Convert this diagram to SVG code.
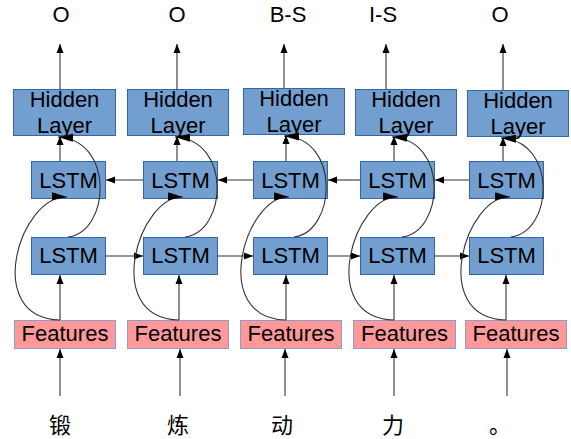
<svg xmlns="http://www.w3.org/2000/svg" width="571" height="439" viewBox="0 0 571 439">
<defs>
<style>
.hid{fill:#729fcf;stroke:#3465a4;stroke-width:1}
.lstm{fill:#729fcf;stroke:#3465a4;stroke-width:1}
.feat{fill:#ff9999;stroke:#8a9cd0;stroke-width:1}
.t{font-family:"Liberation Sans",Arial,sans-serif;font-size:22px;fill:#000;text-anchor:middle}
.zh{font-family:"Liberation Sans","Noto Sans CJK SC",sans-serif;font-size:22px;fill:#000;text-anchor:middle}
.ln{fill:none;stroke:#333;stroke-width:1.1}
.s{marker-end:url(#ah)}
.c{marker-end:url(#ahc)}
</style>
<marker id="ah" markerUnits="userSpaceOnUse" markerWidth="10" markerHeight="8" refX="9" refY="4" orient="auto"><path d="M0,0.5 L9,4 L0,7.5 z" fill="#000"/></marker>
<marker id="ahc" markerUnits="userSpaceOnUse" markerWidth="16" markerHeight="10" refX="15" refY="5" orient="auto"><path d="M0,1 L15,5 L0,9 z" fill="#000"/></marker>
</defs>
<rect width="571" height="439" fill="#fff"/>

<g id="col1">
<g id="label1"><text class="t" x="61" y="22">O</text></g>
<g id="hidden1"><rect class="hid" x="13.5" y="89.5" width="102" height="46"/><text class="t" x="64.5" y="107">Hidden</text><text class="t" x="64.5" y="133">Layer</text></g>
<g id="lstmT1"><rect class="lstm" x="31.5" y="161.5" width="74" height="37"/><text class="t" x="68.5" y="188">LSTM</text></g>
<g id="lstmB1"><rect class="lstm" x="31.5" y="237.5" width="74" height="37"/><text class="t" x="68.5" y="263">LSTM</text></g>
<g id="feat1"><rect class="feat" x="14.5" y="320.5" width="101" height="28"/><text class="t" x="65" y="341">Features</text></g>
<g id="char1"><text class="zh" x="60" y="433">锻</text></g>
</g>

<g id="col2">
<g id="label2"><text class="t" x="177" y="22">O</text></g>
<g id="hidden2"><rect class="hid" x="127.5" y="89.5" width="101" height="46"/><text class="t" x="178" y="107">Hidden</text><text class="t" x="178" y="133">Layer</text></g>
<g id="lstmT2"><rect class="lstm" x="143.5" y="161.5" width="74" height="37"/><text class="t" x="180.5" y="188">LSTM</text></g>
<g id="lstmB2"><rect class="lstm" x="143.5" y="237.5" width="74" height="37"/><text class="t" x="180.5" y="263">LSTM</text></g>
<g id="feat2"><rect class="feat" x="127.5" y="320.5" width="101" height="28"/><text class="t" x="178" y="341">Features</text></g>
<g id="char2"><text class="zh" x="178" y="433">炼</text></g>
</g>

<g id="col3">
<g id="label3"><text class="t" x="288" y="22">B-S</text></g>
<g id="hidden3"><rect class="hid" x="243.5" y="88.5" width="101" height="46"/><text class="t" x="294" y="106">Hidden</text><text class="t" x="294" y="132">Layer</text></g>
<g id="lstmT3"><rect class="lstm" x="253.5" y="161.5" width="74" height="37"/><text class="t" x="290.5" y="188">LSTM</text></g>
<g id="lstmB3"><rect class="lstm" x="253.5" y="237.5" width="74" height="37"/><text class="t" x="290.5" y="263">LSTM</text></g>
<g id="feat3"><rect class="feat" x="240.5" y="320.5" width="101" height="28"/><text class="t" x="291" y="341">Features</text></g>
<g id="char3"><text class="zh" x="282" y="433">动</text></g>
</g>

<g id="col4">
<g id="label4"><text class="t" x="383" y="22">I-S</text></g>
<g id="hidden4"><rect class="hid" x="355.5" y="89.5" width="101" height="46"/><text class="t" x="406" y="107">Hidden</text><text class="t" x="406" y="133">Layer</text></g>
<g id="lstmT4"><rect class="lstm" x="360.5" y="161.5" width="74" height="37"/><text class="t" x="397.5" y="188">LSTM</text></g>
<g id="lstmB4"><rect class="lstm" x="360.5" y="237.5" width="74" height="37"/><text class="t" x="397.5" y="263">LSTM</text></g>
<g id="feat4"><rect class="feat" x="353.5" y="320.5" width="102" height="28"/><text class="t" x="404.5" y="341">Features</text></g>
<g id="char4"><text class="zh" x="393" y="433">力</text></g>
</g>

<g id="col5">
<g id="label5"><text class="t" x="500" y="22">O</text></g>
<g id="hidden5"><rect class="hid" x="467.5" y="90.5" width="101" height="46"/><text class="t" x="518" y="108">Hidden</text><text class="t" x="518" y="134">Layer</text></g>
<g id="lstmT5"><rect class="lstm" x="469.5" y="161.5" width="74" height="37"/><text class="t" x="506.5" y="188">LSTM</text></g>
<g id="lstmB5"><rect class="lstm" x="469.5" y="237.5" width="74" height="37"/><text class="t" x="506.5" y="263">LSTM</text></g>
<g id="feat5"><rect class="feat" x="465.5" y="320.5" width="101" height="28"/><text class="t" x="516" y="341">Features</text></g>
<g id="char5"><text class="zh" x="500" y="433">。</text></g>
</g>

<g id="connectors">
<!-- hidden to labels -->
<path class="ln s" d="M60,89 V44"/>
<path class="ln s" d="M177,90 V44"/>
<path class="ln s" d="M284,88 V44"/>
<path class="ln s" d="M386,89 V44"/>
<path class="ln s" d="M503,90 V44"/>
<!-- top LSTM to hidden -->
<path class="ln s" d="M60,161 V136"/>
<path class="ln s" d="M177,161 V136"/>
<path class="ln s" d="M286,161 V135"/>
<path class="ln s" d="M394,161 V136"/>
<path class="ln s" d="M503,161 V137"/>
<!-- features to bottom LSTM -->
<path class="ln s" d="M60,320 V275"/>
<path class="ln s" d="M179,320 V275"/>
<path class="ln s" d="M286,320 V275"/>
<path class="ln s" d="M394,320 V275"/>
<path class="ln s" d="M506,320 V275"/>
<!-- chars to features -->
<path class="ln s" d="M60,396 V349"/>
<path class="ln s" d="M180,396 V349"/>
<path class="ln s" d="M285,396 V349"/>
<path class="ln s" d="M394,396 V349"/>
<path class="ln s" d="M507,396 V349"/>
<!-- backward LSTM row (right to left) -->
<path class="ln s" d="M143,180 H106"/>
<path class="ln s" d="M253,180 H218"/>
<path class="ln s" d="M360,180 H328"/>
<path class="ln s" d="M469,180 H435"/>
<!-- forward LSTM row (left to right) -->
<path class="ln s" d="M105,256 H143"/>
<path class="ln s" d="M217,256 H253"/>
<path class="ln s" d="M327,256 H360"/>
<path class="ln s" d="M434,256 H469"/>
<!-- curves: features to top LSTM -->
<path class="ln c" d="M60,320 C-18,318 20,195 67,197"/>
<path class="ln c" d="M179,320 C101,318 139,195 183,197"/>
<path class="ln c" d="M286,320 C208,318 246,195 289,197"/>
<path class="ln c" d="M394,320 C316,318 354,195 398,197"/>
<path class="ln c" d="M506,320 C428,318 466,195 510,197"/>
<!-- curves: bottom LSTM to hidden -->
<path class="ln c" d="M68,237 C110,232 115,140 58,137"/>
<path class="ln c" d="M185,237 C227,232 232,140 175,137"/>
<path class="ln c" d="M294,237 C336,232 341,138 284,136"/>
<path class="ln c" d="M402,237 C444,232 449,140 392,137"/>
<path class="ln c" d="M511,237 C553,232 558,141 501,138"/>
</g>
</svg>
